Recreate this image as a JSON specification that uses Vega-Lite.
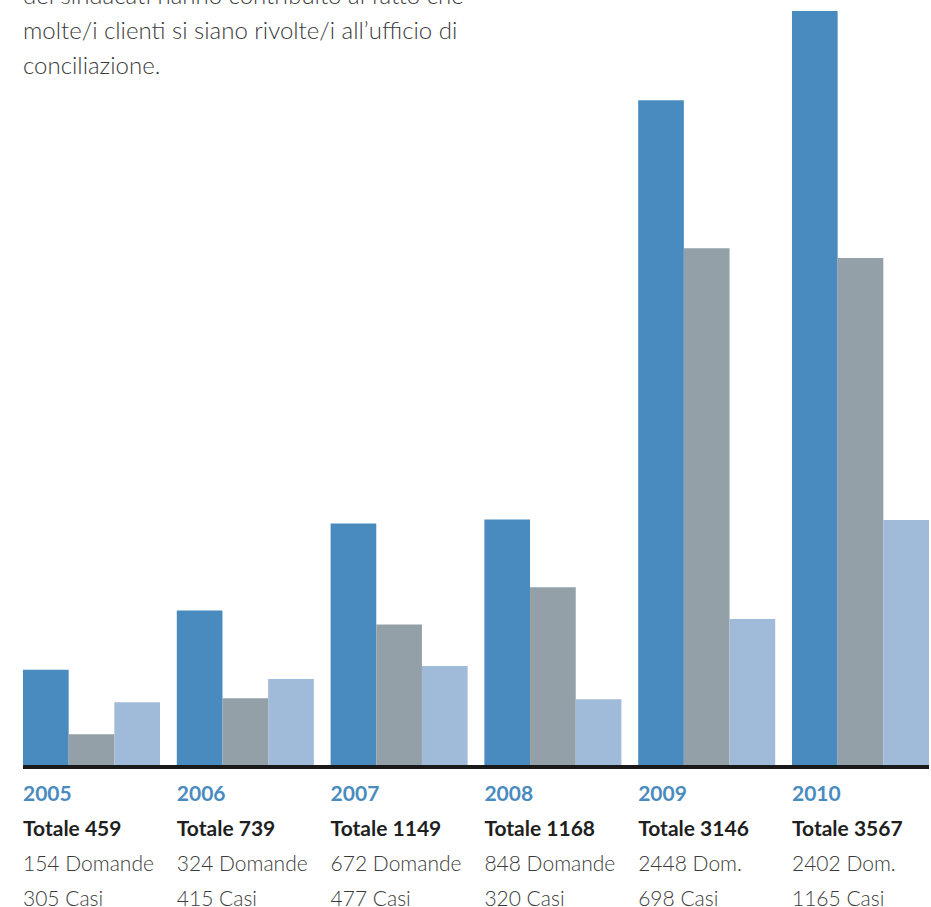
{
  "$schema": "https://vega.github.io/schema/vega-lite/v6.json",
  "padding": {"left": 21, "right": 2, "top": -15, "bottom": 0},
  "background": "white",
  "config": {"view": {"stroke": null}, "concat": {"spacing": 8}},
  "title": {
    "text": ["dei sindacati hanno contribuito al fatto che", "molte/i clienti si siano rivolte/i all’ufficio di", "conciliazione."],
    "anchor": "start",
    "frame": "group",
    "offset": -79,
    "baseline": "top",
    "font": "Lato",
    "fontSize": 24,
    "fontWeight": 300,
    "lineHeight": 35,
    "color": "#3a3a3a"
  },
  "datasets": {
    "bars": [
      {"anno": "2005", "serie": "Totale", "valore": 459},
      {"anno": "2005", "serie": "Domande", "valore": 154},
      {"anno": "2005", "serie": "Casi", "valore": 305},
      {"anno": "2006", "serie": "Totale", "valore": 739},
      {"anno": "2006", "serie": "Domande", "valore": 324},
      {"anno": "2006", "serie": "Casi", "valore": 415},
      {"anno": "2007", "serie": "Totale", "valore": 1149},
      {"anno": "2007", "serie": "Domande", "valore": 672},
      {"anno": "2007", "serie": "Casi", "valore": 477},
      {"anno": "2008", "serie": "Totale", "valore": 1168},
      {"anno": "2008", "serie": "Domande", "valore": 848},
      {"anno": "2008", "serie": "Casi", "valore": 320},
      {"anno": "2009", "serie": "Totale", "valore": 3146},
      {"anno": "2009", "serie": "Domande", "valore": 2448},
      {"anno": "2009", "serie": "Casi", "valore": 698},
      {"anno": "2010", "serie": "Totale", "valore": 3567},
      {"anno": "2010", "serie": "Domande", "valore": 2402},
      {"anno": "2010", "serie": "Casi", "valore": 1165}
    ],
    "labels": [
      {"anno": "2005", "riga": "anno", "testo": "2005"},
      {"anno": "2005", "riga": "totale", "testo": "Totale 459"},
      {"anno": "2005", "riga": "domande", "testo": "154 Domande"},
      {"anno": "2005", "riga": "casi", "testo": "305 Casi"},
      {"anno": "2006", "riga": "anno", "testo": "2006"},
      {"anno": "2006", "riga": "totale", "testo": "Totale 739"},
      {"anno": "2006", "riga": "domande", "testo": "324 Domande"},
      {"anno": "2006", "riga": "casi", "testo": "415 Casi"},
      {"anno": "2007", "riga": "anno", "testo": "2007"},
      {"anno": "2007", "riga": "totale", "testo": "Totale 1149"},
      {"anno": "2007", "riga": "domande", "testo": "672 Domande"},
      {"anno": "2007", "riga": "casi", "testo": "477 Casi"},
      {"anno": "2008", "riga": "anno", "testo": "2008"},
      {"anno": "2008", "riga": "totale", "testo": "Totale 1168"},
      {"anno": "2008", "riga": "domande", "testo": "848 Domande"},
      {"anno": "2008", "riga": "casi", "testo": "320 Casi"},
      {"anno": "2009", "riga": "anno", "testo": "2009"},
      {"anno": "2009", "riga": "totale", "testo": "Totale 3146"},
      {"anno": "2009", "riga": "domande", "testo": "2448 Dom."},
      {"anno": "2009", "riga": "casi", "testo": "698 Casi"},
      {"anno": "2010", "riga": "anno", "testo": "2010"},
      {"anno": "2010", "riga": "totale", "testo": "Totale 3567"},
      {"anno": "2010", "riga": "domande", "testo": "2402 Dom."},
      {"anno": "2010", "riga": "casi", "testo": "1165 Casi"}
    ]
  },
  "vconcat": [
    {
      "width": 906,
      "height": 767,
      "data": {"name": "bars"},
      "layer": [
        {
          "mark": {"type": "bar"},
          "encoding": {
            "x": {"field": "anno", "type": "nominal", "axis": null, "scale": {"paddingInner": 0.109, "paddingOuter": 0}},
            "xOffset": {"field": "serie", "type": "nominal", "scale": {"domain": ["Totale", "Domande", "Casi"], "paddingInner": 0, "paddingOuter": 0}},
            "y": {"field": "valore", "type": "quantitative", "axis": null, "scale": {"domain": [0, 3619], "nice": false}},
            "color": {"field": "serie", "type": "nominal", "legend": null, "scale": {"domain": ["Totale", "Domande", "Casi"], "range": ["#4A8BBF", "#93A0A8", "#A0BADA"]}}
          }
        },
        {
          "mark": {"type": "rule", "color": "#1a1a1a", "strokeWidth": 3},
          "encoding": {"y": {"datum": 0}}
        }
      ]
    },
    {
      "width": 906,
      "height": {"step": 35},
      "data": {"name": "labels"},
      "encoding": {
        "x": {"field": "anno", "type": "nominal", "bandPosition": 0, "axis": null, "scale": {"type": "band", "paddingInner": 0.109, "paddingOuter": 0}},
        "y": {"field": "riga", "type": "ordinal", "axis": null, "scale": {"domain": ["anno", "totale", "domande", "casi"]}},
        "text": {"field": "testo"}
      },
      "layer": [
        {
          "transform": [{"filter": "datum.riga === 'anno'"}],
          "mark": {"type": "text", "align": "left", "baseline": "middle", "font": "Lato", "fontSize": 21, "fontWeight": "bold", "color": "#4A8BBF"}
        },
        {
          "transform": [{"filter": "datum.riga === 'totale'"}],
          "mark": {"type": "text", "align": "left", "baseline": "middle", "font": "Lato", "fontSize": 21, "fontWeight": "bold", "color": "#1f1f1f"}
        },
        {
          "transform": [{"filter": "datum.riga === 'domande' || datum.riga === 'casi'"}],
          "mark": {"type": "text", "align": "left", "baseline": "middle", "font": "Lato", "fontSize": 21, "fontWeight": 300, "color": "#3a3a3a"}
        }
      ]
    }
  ]
}
